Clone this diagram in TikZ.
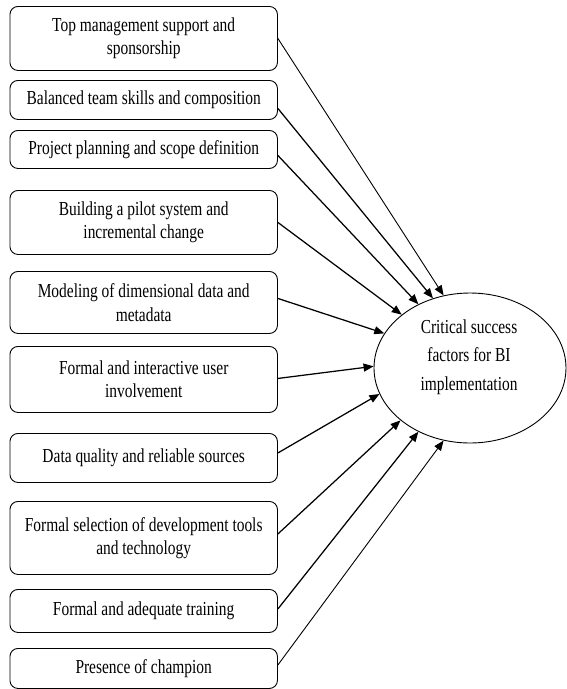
\documentclass[tikz,border=0pt]{standalone}
\usepackage{fontspec}
\setmainfont[FakeStretch=0.78]{Liberation Serif}
\usetikzlibrary{arrows.meta,shapes.geometric}
\begin{document}
\begin{tikzpicture}[x=1pt,y=-1pt,
  factor/.style={draw,rounded corners=8pt,line width=0.9pt,minimum width=267.5pt,
    align=center,inner sep=0pt,anchor=north west,
    font=\fontsize{19.8}{23.5}\selectfont},
  link/.style={line width=1.25pt,-{Triangle[length=10pt,width=8pt]}},
  thin link/.style={link,line width=0.9pt}]
\useasboundingbox (0,0) rectangle (567,689);
\node[factor,minimum height=64pt] (b1) at (9.5,6) {Top management support and\\sponsorship};
\node[factor,minimum height=39pt] (b2) at (9.5,80) {Balanced team skills and composition};
\node[factor,minimum height=38pt] (b3) at (9.5,130) {Project planning and scope definition};
\node[factor,minimum height=64pt] (b4) at (9.5,190) {Building a pilot system and\\incremental change};
\node[factor,minimum height=62pt] (b5) at (9.5,271) {Modeling of dimensional data and\\metadata};
\node[factor,minimum height=66pt] (b6) at (9.5,346) {Formal and interactive user\\involvement};
\node[factor,minimum height=49pt] (b7) at (9.5,433) {Data quality and reliable sources};
\node[factor,minimum height=73pt] (b8) at (9.5,501) {Formal selection of development tools\\and technology};
\node[factor,minimum height=43pt] (b9) at (9.5,589) {Formal and adequate training};
\node[factor,minimum height=40pt] (b10) at (9.5,648) {Presence of champion};
\node[draw,ellipse,line width=0.9pt,minimum width=192pt,minimum height=150pt,inner sep=0pt] (e) at (470,368) {};
\node[align=center,font=\fontsize{19.8}{28.5}\selectfont] (et) at (469,357) {Critical success\\factors for BI\\implementation};
\draw[thin link] (b1.east) -- (e.110.8);
\draw[link] ([yshift=-8.5pt]b2.east) -- (e.118.7);
\draw[link] ([yshift=-6pt]b3.east) -- (e.129.2);
\draw[link] (b4.east) -- (e.142.9);
\draw[link] ([yshift=4pt]b5.east) -- (e.158.1);
\draw[link] ([yshift=1pt]b6.east) -- (e.179.4);
\draw[link] ([yshift=5pt]b7.east) -- (e.196.1);
\draw[link] ([yshift=4pt]b8.east) -- (e.217.4);
\draw[link] ([yshift=2pt]b9.east) -- (e.231.9);
\draw[thin link] ([yshift=3.5pt]b10.east) -- (e.250.7);
\end{tikzpicture}
\end{document}
